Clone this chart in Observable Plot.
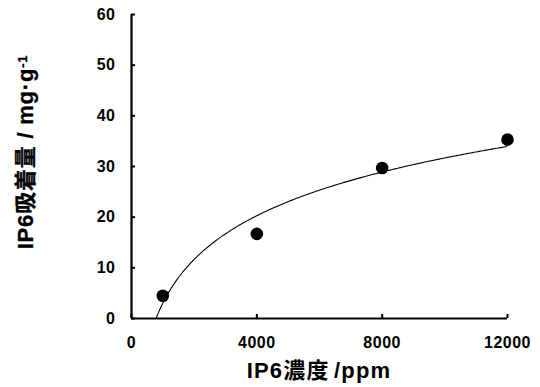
<!DOCTYPE html>
<html>
<head>
<meta charset="utf-8">
<script src="https://cdn.jsdelivr.net/npm/d3@7"></script>
<script src="https://cdn.jsdelivr.net/npm/@observablehq/plot@0.6"></script>
<style>
  html, body { margin: 0; padding: 0; background: #fff; }
  #chart { width: 540px; height: 387px; }
  svg text { font-family: "Liberation Sans", Arial, "Noto Sans CJK JP", sans-serif; font-weight: bold; }
</style>
</head>
<body>
<div id="chart"></div>
<script>
// Data
const concentration = [1000, 4000, 8000, 12000];          // IP6濃度 (ppm)
const adsorbed      = [4.5, 16.7, 29.7, 35.3];            // IP6吸着量 (mg·g-1)
const xTicks = [0, 4000, 8000, 12000];
const yTicks = [0, 10, 20, 30, 40, 50, 60];
const xLabel = "IP6濃度 /ppm";
const yLabelMain = "IP6吸着量 / mg·g";
const yLabelSup = "-1";

const points = concentration.map((c, i) => ({x: c, y: adsorbed[i]}));

// Logarithmic trend line (least squares fit of y = a·ln(x) + b), as in the source
const lx = concentration.map(Math.log);
const mx = d3.mean(lx), my = d3.mean(adsorbed);
const a = d3.sum(lx, (v, i) => (v - mx) * (adsorbed[i] - my)) / d3.sum(lx, v => (v - mx) ** 2);
const b = my - a * mx;
const xStart = Math.exp(-b / a);
const xEnd = d3.max(concentration);
const trend = d3.range(0, 201).map(i => {
  const x = xStart + (xEnd - xStart) * i / 200;
  return {x, y: a * Math.log(x) + b};
});

const chart = Plot.plot({
  width: 540,
  height: 387,
  marginLeft: 131,
  marginRight: 33,
  marginTop: 14,
  marginBottom: 69,
  style: {fontSize: "16px", color: "#000", background: "#fff"},
  x: {domain: [0, 12000]},
  y: {domain: [0, 60]},
  marks: [
    Plot.axisX({ticks: xTicks, tickSize: -4, tickPadding: 22, tickFormat: d => String(d), label: null, stroke: "#000", strokeWidth: 2, fontSize: 16, fontWeight: "bold"}),
    Plot.axisY({ticks: yTicks, tickSize: -4, tickPadding: 20, tickFormat: d => String(d), label: null, stroke: "#000", strokeWidth: 2, fontSize: 16, fontWeight: "bold"}),
    Plot.line(trend, {x: "x", y: "y", stroke: "#000", strokeWidth: 1.1, clip: true}),
    Plot.dot(points, {x: "x", y: "y", r: 6.3, fill: "#000", stroke: "none"}),
    Plot.ruleX([0], {stroke: "#000", strokeWidth: 2.2}),
    Plot.ruleY([0], {stroke: "#000", strokeWidth: 2.2})
  ]
});

document.getElementById("chart").appendChild(chart);

const svg = d3.select(chart);
svg.selectAll("text").style("letter-spacing", "0.5px");

// x-axis title
svg.append("text")
  .attr("x", 319)
  .attr("y", 378)
  .attr("text-anchor", "middle")
  .style("font-size", "22px")
  .style("letter-spacing", "1.2px")
  .style("word-spacing", "-3px")
  .text(xLabel);

// y-axis title with superscript
const yt = svg.append("text")
  .attr("transform", "translate(33,152) rotate(-90)")
  .attr("text-anchor", "middle")
  .style("font-size", "22px")
  .style("letter-spacing", "0.8px")
  .style("stroke", "#000")
  .style("stroke-width", "0.3px");
yt.append("tspan").text(yLabelMain);
yt.append("tspan").attr("dy", "-0.45em").style("font-size", "13px").text(yLabelSup);
</script>
</body>
</html>
